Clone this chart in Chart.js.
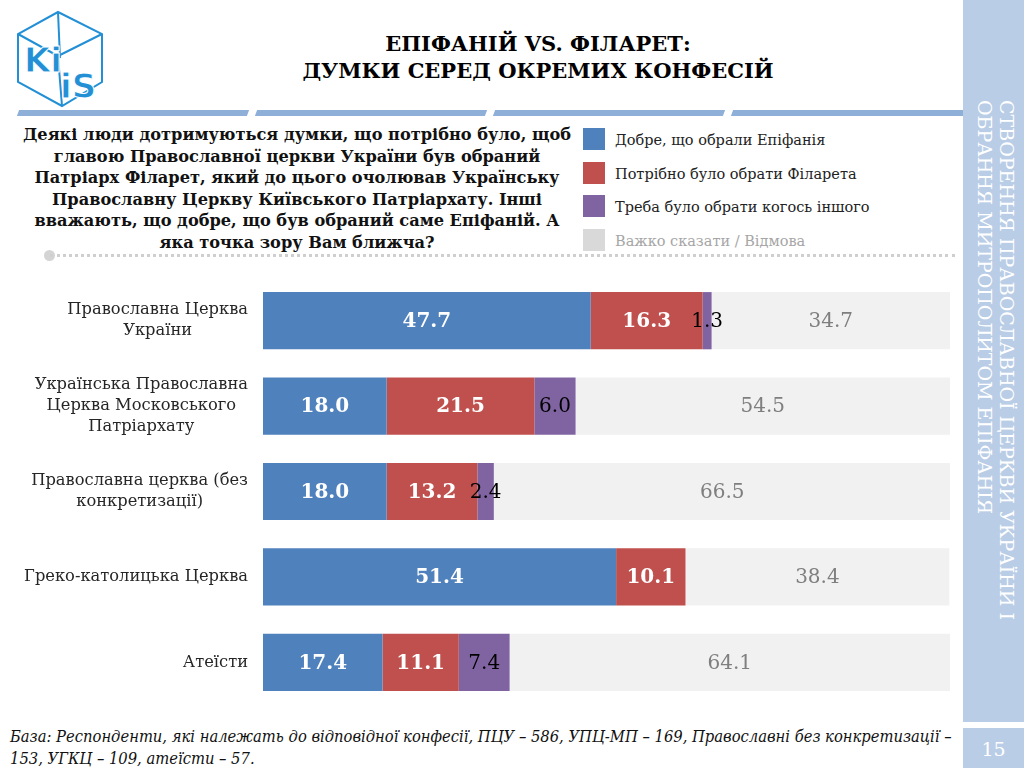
<!DOCTYPE html>
<html>
<head>
<meta charset="utf-8">
<script src="https://cdn.jsdelivr.net/npm/chart.js@4"></script>
<style>
  body { margin: 0; width: 1024px; height: 768px; position: relative; overflow: hidden; background: #fff; font-family: "DejaVu Serif", serif; }
  .abs { position: absolute; }
  #title { left: 300px; width: 476px; top: 30px; text-align: center; font-weight: bold; font-size: 21px; line-height: 27px; color: #000; }
  .stripe { top: 110px; height: 6px; background: #8eb0d8; transform: skewX(-20deg); }
  #question { left: 0px; width: 594px; top: 124px; text-align: center; font-weight: bold; font-size: 16.2px; line-height: 21.5px; color: #111; }
  #legend { left: 583px; top: 128px; }
  .lg { height: 33.5px; display: flex; align-items: flex-start; font-size: 14.5px; color: #222; }
  .lg span.sw { width: 22px; height: 22px; margin-right: 10px; flex: none; }
  .lg span.tx { line-height: 24px; }
  #dots { left: 50px; top: 254px; width: 905px; border-top: 3px dotted #cfcfcf; }
  #dotc { left: 44px; top: 250px; width: 11px; height: 11px; border-radius: 50%; background: #d4d4d4; }
  #side { left: 963px; top: 0; width: 61px; height: 722px; background: #bacde6; }
  #sidetxt { left: 962px; top: 100px; width: 56px; writing-mode: vertical-rl; color: #fff; font-size: 19px; line-height: 22px; white-space: nowrap; }
  #pagebox { left: 963px; top: 728px; width: 61px; height: 40px; background: #bacde6; color: #fff; font-size: 19px; text-align: center; line-height: 42px; }
  #foot { left: 10px; top: 726px; width: 950px; font-family: "DejaVu Serif Condensed", "DejaVu Serif", serif; font-stretch: condensed; font-style: italic; font-size: 16.4px; line-height: 22px; color: #111; white-space: nowrap; }
  #chart { left: 0; top: 270px; }
</style>
</head>
<body>
<svg class="abs" style="left:10px;top:8px" width="100" height="104" viewBox="0 0 100 104">
  <g fill="none" stroke="#2390d6" stroke-width="2">
    <polygon points="48,4 92,26 92,74 52,98 8,74 8,26"/>
    <polyline points="8,26 48,48 92,26"/>
    <line x1="48" y1="48" x2="52" y2="98"/>
    <line x1="48" y1="4" x2="50" y2="50"/>
  </g>
  <text x="14" y="64" font-family="DejaVu Sans" font-weight="bold" font-size="34" fill="#2390d6" stroke="#fff" stroke-width="1">Ki</text>
  <text x="50" y="90" font-family="DejaVu Sans" font-weight="bold" font-size="34" fill="#2390d6" stroke="#fff" stroke-width="1">iS</text>
</svg>
<div id="title" class="abs">ЕПІФАНІЙ VS. ФІЛАРЕТ:<br>ДУМКИ СЕРЕД ОКРЕМИХ КОНФЕСІЙ</div>
<div class="abs stripe" style="left:18px;width:230px"></div>
<div class="abs stripe" style="left:256px;width:230px"></div>
<div class="abs stripe" style="left:494px;width:230px"></div>
<div class="abs stripe" style="left:732px;width:232px"></div>
<div id="question" class="abs">Деякі люди дотримуються думки, що потрібно було, щоб<br>главою Православної церкви України був обраний<br>Патріарх Філарет, який до цього очолював Українську<br>Православну Церкву Київського Патріархату. Інші<br>вважають, що добре, що був обраний саме Епіфаній. А<br>яка точка зору Вам ближча?</div>
<div id="legend" class="abs"></div>
<div id="dotc" class="abs"></div>
<div id="dots" class="abs"></div>
<div id="side" class="abs"></div>
<div id="sidetxt" class="abs">СТВОРЕННЯ ПРАВОСЛАВНОЇ ЦЕРКВИ УКРАЇНИ І<br>ОБРАННЯ МИТРОПОЛИТОМ ЕПІФАНІЯ</div>
<div id="pagebox" class="abs">15</div>
<div id="foot" class="abs">База: Респонденти, які належать до відповідної конфесії, ПЦУ – 586, УПЦ-МП – 169, Православні без конкретизації –<br>153, УГКЦ – 109, атеїсти – 57.</div>
<canvas id="chart" class="abs" width="960" height="450"></canvas>
<script>
// categories (multi-line labels)
var categories = [
  ["Православна Церква", "України"],
  ["Українська Православна", "Церква Московського", "Патріархату"],
  ["Православна церква (без", "конкретизації)"],
  ["Греко-католицька Церква"],
  ["Атеїсти"]
];
var seriesNames = [
  "Добре, що обрали Епіфанія",
  "Потрібно було обрати Філарета",
  "Треба було обрати когось іншого",
  "Важко сказати / Відмова"
];
var goodEpifaniy  = [47.7, 18.0, 18.0, 51.4, 17.4];
var needFilaret   = [16.3, 21.5, 13.2, 10.1, 11.1];
var someoneElse   = [1.3, 6.0, 2.4, 0, 7.4];
var hardToSay     = [34.7, 54.5, 66.5, 38.4, 64.1];

var colors = ["#4f81bd", "#c0504d", "#8064a2", "#f1f1f1"];
var legendSwatch = ["#4f81bd", "#c0504d", "#8064a2", "#d9d9d9"];
var labelStyle = [
  { color: "#fff", weight: "bold" },
  { color: "#fff", weight: "bold" },
  { color: "#000", weight: "normal" },
  { color: "#7f7f7f", weight: "normal" }
];

// html legend from the series names
var legendEl = document.getElementById('legend');
seriesNames.forEach(function(name, i) {
  var row = document.createElement('div');
  row.className = 'lg';
  row.innerHTML = '<span class="sw" style="background:' + legendSwatch[i] + '"></span>' +
    '<span class="tx" style="color:' + (i === 3 ? '#a6a6a6' : '#222') + '">' + name + '</span>';
  legendEl.appendChild(row);
});

var barLabels = {
  id: 'barLabels',
  afterDatasetsDraw: function(chart) {
    var ctx = chart.ctx;
    ctx.save();
    ctx.textAlign = 'center';
    ctx.textBaseline = 'middle';
    chart.data.datasets.forEach(function(ds, di) {
      var meta = chart.getDatasetMeta(di);
      var st = labelStyle[di];
      ctx.fillStyle = st.color;
      ctx.font = st.weight + ' 20px "DejaVu Serif"';
      meta.data.forEach(function(bar, i) {
        var v = ds.data[i];
        if (!v) return;
        ctx.fillText(v.toFixed(1), (bar.x + bar.base) / 2, bar.y + 1);
      });
    });
    ctx.restore();
  }
};

// category labels: block right-aligned, lines centered inside it
var catLabels = {
  id: 'catLabels',
  afterDraw: function(chart) {
    var ctx = chart.ctx;
    var yScale = chart.scales.y;
    var right = chart.chartArea.left - 15;
    var lh = 21;
    ctx.save();
    ctx.font = '16.3px "DejaVu Serif"';
    ctx.fillStyle = '#262626';
    ctx.textAlign = 'center';
    ctx.textBaseline = 'middle';
    categories.forEach(function(lines, i) {
      var w = 0;
      lines.forEach(function(l) { w = Math.max(w, ctx.measureText(l).width); });
      var cx = right - w / 2;
      var y0 = yScale.getPixelForValue(i) - (lines.length - 1) * lh / 2;
      lines.forEach(function(l, k) { ctx.fillText(l, cx, y0 + k * lh); });
    });
    ctx.restore();
  }
};

var series = [goodEpifaniy, needFilaret, someoneElse, hardToSay];
var chart = new Chart(document.getElementById('chart'), {
  type: 'bar',
  data: {
    labels: categories.map(function(c) { return c.join(' '); }),
    datasets: series.map(function(d, i) {
      return {
        label: seriesNames[i],
        data: d,
        backgroundColor: colors[i],
        borderWidth: 0,
        categoryPercentage: 1,
        barPercentage: 0.67
      };
    })
  },
  options: {
    indexAxis: 'y',
    responsive: false,
    animation: false,
    devicePixelRatio: 1,
    layout: { padding: { left: 263, right: 10, top: 8, bottom: 15 } },
    plugins: { legend: { display: false }, tooltip: { enabled: false } },
    scales: {
      x: { stacked: true, min: 0, max: 100, display: false },
      y: { stacked: true, display: false }
    }
  },
  plugins: [barLabels, catLabels]
});
</script>
</body>
</html>
